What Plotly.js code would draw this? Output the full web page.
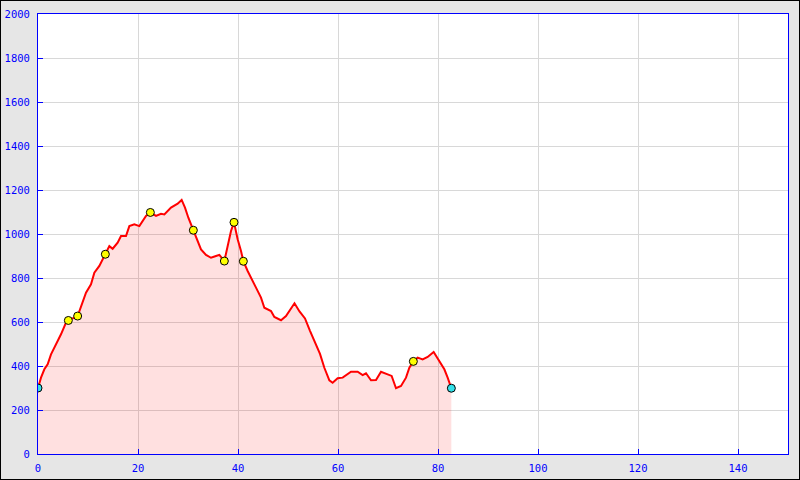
<!DOCTYPE html>
<html>
<head>
<meta charset="utf-8">
<script src="https://cdn.plot.ly/plotly-3.0.1.min.js"></script>
<style>
  html, body { margin: 0; padding: 0; background: #e6e6e6; }
  #wrap { position: relative; width: 800px; height: 480px; }
  #chart { width: 800px; height: 480px; }
  #frame { position: absolute; left: 0; top: 0; width: 800px; height: 480px; box-sizing: border-box; border: 1px solid #000; pointer-events: none; }
</style>
</head>
<body>
<div id="wrap"><div id="chart"></div><div id="frame"></div></div>
<script>
// Profile: distance (km) and elevation (m)
const distance = [0, 0.6, 1.27, 1.93, 2.6, 3.6, 4.6, 5.6, 6.07, 7.93, 8.93, 9.6, 10.6, 11.27, 12.27, 13.47,
  14.27, 14.93, 15.93, 16.6, 17.6, 18.27, 19.27, 20.27, 21.6, 22.47, 23.6, 24.6, 25.27, 26.6, 27.93, 28.73,
  29.4, 30.07, 31.07, 31.93, 32.6, 33.6, 34.6, 35.6, 36.27, 37.27, 37.93, 38.6, 39.2, 39.93, 40.6, 41.07,
  41.93, 42.6, 43.6, 44.6, 45.27, 46.6, 47.27, 48.6, 49.6, 50.6, 51.3, 52.3, 53.4, 54.4, 55.4, 56.4, 57.27,
  58.27, 58.93, 59.93, 60.93, 62.6, 63.93, 64.93, 65.6, 66.6, 67.6, 68.6, 69.93, 70.73, 71.6, 72.6, 73.6,
  74.27, 75.07, 75.93, 76.93, 77.93, 79.13, 80.27, 81.27, 81.93, 82.67];
const elevation = [300, 347, 385, 408, 453, 498, 544, 597, 607, 627, 688, 733, 771, 824, 855, 908,
  945, 933, 961, 991, 991, 1036, 1044, 1036, 1082, 1098, 1082, 1092, 1089, 1120, 1138, 1155,
  1120, 1074, 1017, 968, 930, 905, 892, 900, 905, 877, 953, 1014, 1053, 976, 923, 876,
  832, 801, 756, 711, 665, 650, 623, 608, 627, 665, 685, 648, 616, 560, 505, 455, 392,
  335, 324, 344, 347, 374, 374, 359, 367, 335, 336, 374, 362, 355, 299, 309, 347,
  392, 421, 438, 430, 441, 464, 423, 385, 347, 299];

// Waypoints
const wayX = [6.07, 7.93, 13.47, 22.47, 31.07, 37.27, 39.2, 41.07, 75.07];
const wayY = [607, 627, 908, 1098, 1017, 877, 1053, 876, 421];
const endX = [0, 82.67];
const endY = [300, 299];

const xTicks = [0, 20, 40, 60, 80, 100, 120, 140];
const yTicks = [0, 200, 400, 600, 800, 1000, 1200, 1400, 1600, 1800, 2000];

const traces = [
  { x: distance, y: elevation, type: 'scatter', mode: 'lines', fill: 'tozeroy',
    fillcolor: 'rgba(255,0,0,0.12)', line: { color: '#ff0000', width: 2 }, hoverinfo: 'skip' },
  { x: wayX, y: wayY, type: 'scatter', mode: 'markers',
    marker: { size: 8, color: '#ffff00', line: { color: '#000', width: 1 } } },
  { x: endX, y: endY, type: 'scatter', mode: 'markers',
    marker: { size: 8, color: '#33e0e8', line: { color: '#000', width: 1 } } }
];

const font = { family: 'DejaVu Sans Mono, monospace', size: 10.5, color: '#0000ff' };
const layout = {
  width: 800, height: 480,
  margin: { l: 38, r: 12, t: 14, b: 26, pad: 0 },
  paper_bgcolor: '#e6e6e6', plot_bgcolor: '#ffffff',
  showlegend: false,
  font: font,
  xaxis: { range: [0, 150], tickvals: xTicks, ticktext: xTicks.map(String), showgrid: true, gridcolor: '#d8d8d8',
    zeroline: false, showline: true, mirror: true, linecolor: '#0000ff', linewidth: 1,
    ticks: 'inside', ticklen: 5, tickcolor: '#0000ff', tickfont: font, ticklabelstandoff: 4, fixedrange: true },
  yaxis: { range: [0, 2000], tickvals: yTicks, ticktext: yTicks.map(String), showgrid: true, gridcolor: '#d8d8d8',
    zeroline: false, showline: true, mirror: true, linecolor: '#0000ff', linewidth: 1,
    ticks: 'inside', ticklen: 5, tickcolor: '#0000ff', tickfont: font, ticklabelstandoff: 5, fixedrange: true }
};

Plotly.newPlot('chart', traces, layout, { displayModeBar: false, staticPlot: true });
</script>
</body>
</html>
